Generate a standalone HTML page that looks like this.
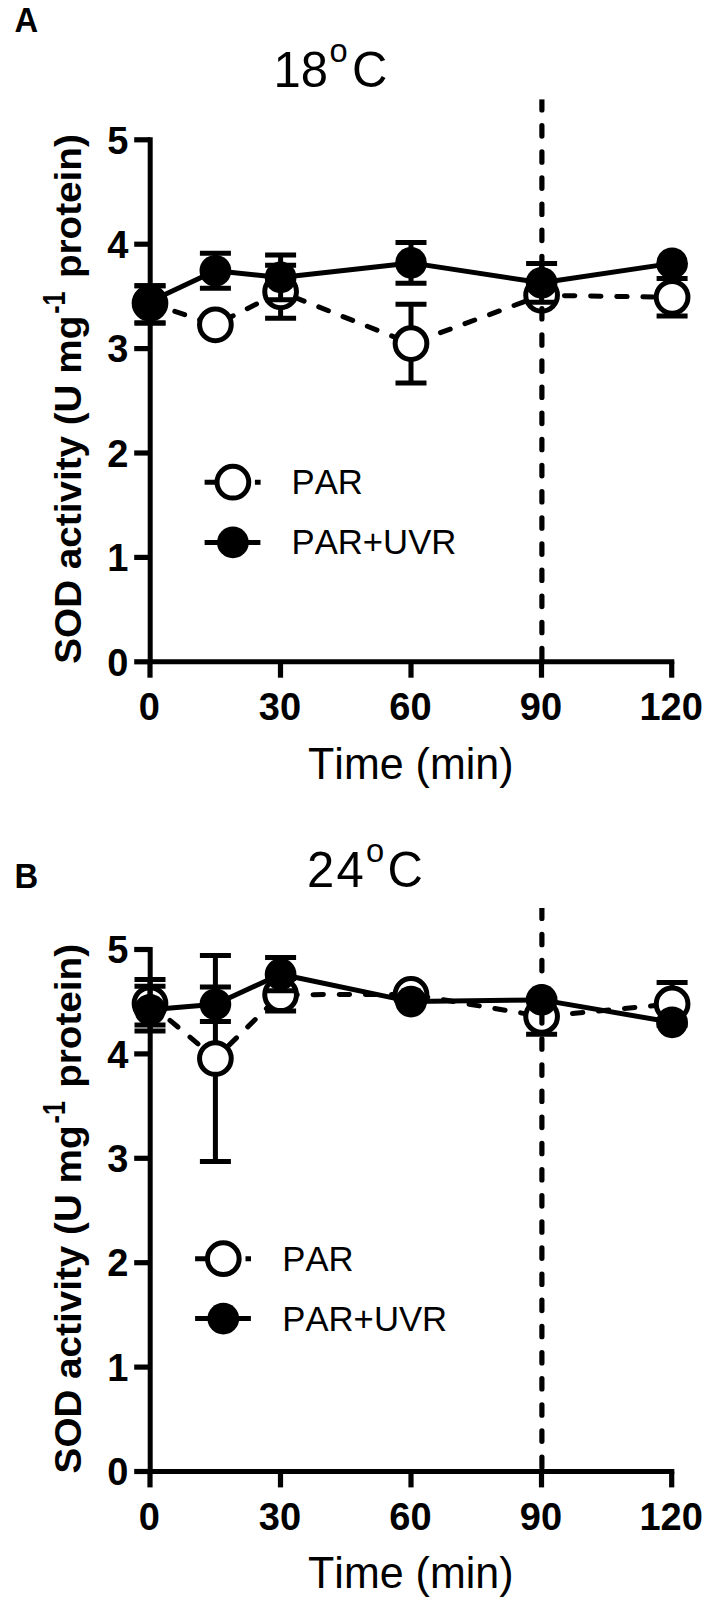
<!DOCTYPE html>
<html><head><meta charset="utf-8"><title>SOD activity</title>
<style>
html,body{margin:0;padding:0;background:#fff}
svg{display:block}
text{font-family:"Liberation Sans",Arial,Helvetica,sans-serif;fill:#000;font-kerning:none}
.tk{font-weight:bold;font-size:38px}
.tt{font-size:49px}
.sup{font-size:32.7px}
.pl{font-weight:bold;font-size:32.8px}
.xl{font-size:43px}
.yl{font-weight:bold;font-size:37px}
.lg{font-size:34.7px}
</style></head><body>
<svg width="709" height="1607" viewBox="0 0 709 1607">
<rect width="709" height="1607" fill="#fff"/>
<polyline points="150.0,303.2 215.4,324.8 280.6,291.8 411.0,343.6 541.6,295.3 672.1,297.3" fill="none" stroke="#000" stroke-width="5.0" stroke-dasharray="10.4 15.74" stroke-dashoffset="0" stroke-linecap="round" stroke-linejoin="round"/>
<path d="M150.0 285.7V323.1M134.5 285.7H165.5M134.5 323.1H165.5" fill="none" stroke="#000" stroke-width="5.0"/>
<path d="M280.6 265.3V318.3M265.1 265.3H296.1M265.1 318.3H296.1" fill="none" stroke="#000" stroke-width="5.0"/>
<path d="M411.0 304.3V382.9M395.5 304.3H426.5M395.5 382.9H426.5" fill="none" stroke="#000" stroke-width="5.0"/>
<path d="M672.1 278.6V316.0M656.6 278.6H687.6M656.6 316.0H687.6" fill="none" stroke="#000" stroke-width="5.0"/>
<circle cx="150.0" cy="303.2" r="15.85" fill="#fff" stroke="#000" stroke-width="5.0"/>
<circle cx="215.4" cy="324.8" r="15.85" fill="#fff" stroke="#000" stroke-width="5.0"/>
<circle cx="280.6" cy="291.8" r="15.85" fill="#fff" stroke="#000" stroke-width="5.0"/>
<circle cx="411.0" cy="343.6" r="15.85" fill="#fff" stroke="#000" stroke-width="5.0"/>
<circle cx="541.6" cy="295.3" r="15.85" fill="#fff" stroke="#000" stroke-width="5.0"/>
<circle cx="672.1" cy="297.3" r="15.85" fill="#fff" stroke="#000" stroke-width="5.0"/>
<polyline points="150.0,301.6 215.4,270.8 280.6,277.4 411.0,262.9 541.6,282.8 672.1,263.4" fill="none" stroke="#000" stroke-width="5.0" stroke-linejoin="round"/>
<path d="M150.0 285.7V323.1M134.5 285.7H165.5M134.5 323.1H165.5" fill="none" stroke="#000" stroke-width="5.0"/>
<path d="M215.4 253.3V288.3M199.9 253.3H230.9M199.9 288.3H230.9" fill="none" stroke="#000" stroke-width="5.0"/>
<path d="M280.6 255.1V299.7M265.1 255.1H296.1M265.1 299.7H296.1" fill="none" stroke="#000" stroke-width="5.0"/>
<path d="M411.0 242.6V283.2M395.5 242.6H426.5M395.5 283.2H426.5" fill="none" stroke="#000" stroke-width="5.0"/>
<path d="M541.6 263.6V302.2M526.1 263.6H557.1M526.1 302.2H557.1" fill="none" stroke="#000" stroke-width="5.0"/>
<circle cx="150.0" cy="301.6" r="15.85" fill="#000"/>
<circle cx="215.4" cy="270.8" r="15.85" fill="#000"/>
<circle cx="280.6" cy="277.4" r="15.85" fill="#000"/>
<circle cx="411.0" cy="262.9" r="15.85" fill="#000"/>
<circle cx="541.6" cy="282.8" r="15.85" fill="#000"/>
<circle cx="672.1" cy="263.4" r="15.85" fill="#000"/>
<path d="M150.2 137.2V661.8H674.3" fill="none" stroke="#000" stroke-width="5"/>
<line x1="134.2" x2="150.2" y1="661.8" y2="661.8" stroke="#000" stroke-width="5.2"/>
<text transform="translate(128.3 675.5) scale(1 1.04)" text-anchor="end" class="tk">0</text>
<line x1="134.2" x2="150.2" y1="557.4" y2="557.4" stroke="#000" stroke-width="5.2"/>
<text transform="translate(128.3 571.1) scale(1 1.04)" text-anchor="end" class="tk">1</text>
<line x1="134.2" x2="150.2" y1="453.0" y2="453.0" stroke="#000" stroke-width="5.2"/>
<text transform="translate(128.3 466.7) scale(1 1.04)" text-anchor="end" class="tk">2</text>
<line x1="134.2" x2="150.2" y1="348.6" y2="348.6" stroke="#000" stroke-width="5.2"/>
<text transform="translate(128.3 362.3) scale(1 1.04)" text-anchor="end" class="tk">3</text>
<line x1="134.2" x2="150.2" y1="244.2" y2="244.2" stroke="#000" stroke-width="5.2"/>
<text transform="translate(128.3 257.9) scale(1 1.04)" text-anchor="end" class="tk">4</text>
<line x1="134.2" x2="150.2" y1="139.8" y2="139.8" stroke="#000" stroke-width="5.2"/>
<text transform="translate(128.3 153.5) scale(1 1.04)" text-anchor="end" class="tk">5</text>
<line x1="150.0" x2="150.0" y1="661.8" y2="677.6999999999999" stroke="#000" stroke-width="5.2"/>
<text transform="translate(149.4 720.2) scale(1 1.02)" text-anchor="middle" class="tk">0</text>
<line x1="280.5" x2="280.5" y1="661.8" y2="677.6999999999999" stroke="#000" stroke-width="5.2"/>
<text transform="translate(279.9 720.2) scale(1 1.02)" text-anchor="middle" class="tk">30</text>
<line x1="411.0" x2="411.0" y1="661.8" y2="677.6999999999999" stroke="#000" stroke-width="5.2"/>
<text transform="translate(410.4 720.2) scale(1 1.02)" text-anchor="middle" class="tk">60</text>
<line x1="541.5" x2="541.5" y1="661.8" y2="677.6999999999999" stroke="#000" stroke-width="5.2"/>
<text transform="translate(540.9 720.2) scale(1 1.02)" text-anchor="middle" class="tk">90</text>
<line x1="671.7" x2="671.7" y1="661.8" y2="677.6999999999999" stroke="#000" stroke-width="5.2"/>
<text transform="translate(671.1 720.2) scale(1 1.02)" text-anchor="middle" class="tk">120</text>
<line x1="541.9" x2="541.9" y1="99.5" y2="661.8" stroke="#000" stroke-width="5.2" stroke-dasharray="10.4 15.74" stroke-linecap="round"/>
<rect x="537.9" y="96.2" width="8" height="3.2" fill="#fff"/>
<polyline points="150.0,1003.5 215.4,1058.5 280.6,994.7 411.0,994.4 541.6,1016.4 672.1,1003.9" fill="none" stroke="#000" stroke-width="5.0" stroke-dasharray="10.4 15.74" stroke-dashoffset="0" stroke-linecap="round" stroke-linejoin="round"/>
<path d="M150.0 979.4V1025.0M134.5 979.4H165.5M134.5 1025.0H165.5" fill="none" stroke="#000" stroke-width="5.0"/>
<path d="M215.4 955.5V1161.5M199.9 955.5H230.9M199.9 1161.5H230.9" fill="none" stroke="#000" stroke-width="5.0"/>
<path d="M280.6 978.4V1011.0M265.1 978.4H296.1M265.1 1011.0H296.1" fill="none" stroke="#000" stroke-width="5.0"/>
<path d="M541.6 998.5V1034.3M526.1 998.5H557.1M526.1 1034.3H557.1" fill="none" stroke="#000" stroke-width="5.0"/>
<path d="M672.1 982.5V1025.3M656.6 982.5H687.6M656.6 1025.3H687.6" fill="none" stroke="#000" stroke-width="5.0"/>
<circle cx="150.0" cy="1003.5" r="15.85" fill="#fff" stroke="#000" stroke-width="5.0"/>
<circle cx="215.4" cy="1058.5" r="15.85" fill="#fff" stroke="#000" stroke-width="5.0"/>
<circle cx="280.6" cy="994.7" r="15.85" fill="#fff" stroke="#000" stroke-width="5.0"/>
<circle cx="411.0" cy="994.4" r="15.85" fill="#fff" stroke="#000" stroke-width="5.0"/>
<circle cx="541.6" cy="1016.4" r="15.85" fill="#fff" stroke="#000" stroke-width="5.0"/>
<circle cx="672.1" cy="1003.9" r="15.85" fill="#fff" stroke="#000" stroke-width="5.0"/>
<polyline points="150.0,1009.8 215.4,1004.3 280.6,974.2 411.0,1001.6 541.6,999.9 672.1,1022.3" fill="none" stroke="#000" stroke-width="5.0" stroke-linejoin="round"/>
<path d="M150.0 986.2V1031.1M134.5 986.2H165.5M134.5 1031.1H165.5" fill="none" stroke="#000" stroke-width="5.0"/>
<path d="M215.4 987.1V1021.5M199.9 987.1H230.9M199.9 1021.5H230.9" fill="none" stroke="#000" stroke-width="5.0"/>
<path d="M280.6 957.6V990.8M265.1 957.6H296.1M265.1 990.8H296.1" fill="none" stroke="#000" stroke-width="5.0"/>
<circle cx="150.0" cy="1009.8" r="15.85" fill="#000"/>
<circle cx="215.4" cy="1004.3" r="15.85" fill="#000"/>
<circle cx="280.6" cy="974.2" r="15.85" fill="#000"/>
<circle cx="411.0" cy="1001.6" r="15.85" fill="#000"/>
<circle cx="541.6" cy="999.9" r="15.85" fill="#000"/>
<circle cx="672.1" cy="1022.3" r="15.85" fill="#000"/>
<path d="M150.2 946.9V1471.5H674.3" fill="none" stroke="#000" stroke-width="5"/>
<line x1="134.2" x2="150.2" y1="1471.5" y2="1471.5" stroke="#000" stroke-width="5.2"/>
<text transform="translate(128.3 1485.2) scale(1 1.04)" text-anchor="end" class="tk">0</text>
<line x1="134.2" x2="150.2" y1="1367.1" y2="1367.1" stroke="#000" stroke-width="5.2"/>
<text transform="translate(128.3 1380.8) scale(1 1.04)" text-anchor="end" class="tk">1</text>
<line x1="134.2" x2="150.2" y1="1262.7" y2="1262.7" stroke="#000" stroke-width="5.2"/>
<text transform="translate(128.3 1276.4) scale(1 1.04)" text-anchor="end" class="tk">2</text>
<line x1="134.2" x2="150.2" y1="1158.3" y2="1158.3" stroke="#000" stroke-width="5.2"/>
<text transform="translate(128.3 1172.0) scale(1 1.04)" text-anchor="end" class="tk">3</text>
<line x1="134.2" x2="150.2" y1="1053.9" y2="1053.9" stroke="#000" stroke-width="5.2"/>
<text transform="translate(128.3 1067.6) scale(1 1.04)" text-anchor="end" class="tk">4</text>
<line x1="134.2" x2="150.2" y1="949.5" y2="949.5" stroke="#000" stroke-width="5.2"/>
<text transform="translate(128.3 963.2) scale(1 1.04)" text-anchor="end" class="tk">5</text>
<line x1="150.0" x2="150.0" y1="1471.5" y2="1487.4" stroke="#000" stroke-width="5.2"/>
<text transform="translate(149.4 1529.9) scale(1 1.02)" text-anchor="middle" class="tk">0</text>
<line x1="280.5" x2="280.5" y1="1471.5" y2="1487.4" stroke="#000" stroke-width="5.2"/>
<text transform="translate(279.9 1529.9) scale(1 1.02)" text-anchor="middle" class="tk">30</text>
<line x1="411.0" x2="411.0" y1="1471.5" y2="1487.4" stroke="#000" stroke-width="5.2"/>
<text transform="translate(410.4 1529.9) scale(1 1.02)" text-anchor="middle" class="tk">60</text>
<line x1="541.5" x2="541.5" y1="1471.5" y2="1487.4" stroke="#000" stroke-width="5.2"/>
<text transform="translate(540.9 1529.9) scale(1 1.02)" text-anchor="middle" class="tk">90</text>
<line x1="671.7" x2="671.7" y1="1471.5" y2="1487.4" stroke="#000" stroke-width="5.2"/>
<text transform="translate(671.1 1529.9) scale(1 1.02)" text-anchor="middle" class="tk">120</text>
<line x1="541.9" x2="541.9" y1="908.1" y2="1471.5" stroke="#000" stroke-width="5.2" stroke-dasharray="10.4 15.74" stroke-linecap="round"/>
<rect x="537.9" y="904.8" width="8" height="3.2" fill="#fff"/>
<text transform="translate(273.6 86.6) scale(1 1.025)" text-anchor="start" class="tt" letter-spacing="0">18</text><text transform="translate(329.6 61.7) scale(1 1.025)" text-anchor="start" class="sup">o</text><text transform="translate(352.0 86.6) scale(1 1.025)" text-anchor="start" class="tt">C</text>
<text transform="translate(306.9 886.6) scale(1 1.025)" text-anchor="start" class="tt" letter-spacing="2.3">24</text><text transform="translate(366.0 861.7) scale(1 1.025)" text-anchor="start" class="sup">o</text><text transform="translate(387.6 886.6) scale(1 1.025)" text-anchor="start" class="tt">C</text>
<text transform="translate(14.4 32.1) scale(1 1.085)" text-anchor="start" class="pl">A</text>
<text transform="translate(14.6 887.6) scale(1 1.095)" text-anchor="start" class="pl">B</text>
<text transform="translate(410.8 778.6) scale(1 1.045)" text-anchor="middle" class="xl">Time (min)</text>
<g transform="translate(81.3 401.3) scale(1 1.045) rotate(-90)" class="yl"><text x="-251.1">SOD activity (U mg</text><text transform="translate(83.8 -16.3) scale(0.75 1)" font-size="32">-1</text><text x="117.9">protein)</text></g>
<text transform="translate(410.8 1588.3) scale(1 1.045)" text-anchor="middle" class="xl">Time (min)</text>
<g transform="translate(81.3 1211.0) scale(1 1.045) rotate(-90)" class="yl"><text x="-251.1">SOD activity (U mg</text><text transform="translate(83.8 -16.3) scale(0.75 1)" font-size="32">-1</text><text x="117.9">protein)</text></g>
<path d="M204.6 482.2H232.9M254.9 482.2H260.6" stroke="#000" stroke-width="5.0" fill="none"/>
<circle cx="232.9" cy="482.2" r="15.85" fill="#fff" stroke="#000" stroke-width="5.0"/>
<line x1="204.6" x2="260.4" y1="542.4" y2="542.4" stroke="#000" stroke-width="5.0"/>
<circle cx="232.9" cy="542.4" r="15.85" fill="#000"/>
<text transform="translate(291.5 494.2) scale(1 1.0)" text-anchor="start" class="lg">PAR</text>
<text transform="translate(291.5 554.4) scale(1 1.0)" text-anchor="start" class="lg">PAR+UVR</text>
<path d="M195.1 1258.7H223.3M245.5 1258.7H251.0" stroke="#000" stroke-width="5.0" fill="none"/>
<circle cx="223.3" cy="1258.7" r="15.85" fill="#fff" stroke="#000" stroke-width="5.0"/>
<line x1="195.1" x2="250.9" y1="1318.6" y2="1318.6" stroke="#000" stroke-width="5.0"/>
<circle cx="223.3" cy="1318.6" r="15.85" fill="#000"/>
<text transform="translate(282.3 1270.8) scale(1 1.0)" text-anchor="start" class="lg">PAR</text>
<text transform="translate(282.3 1331.2) scale(1 1.0)" text-anchor="start" class="lg">PAR+UVR</text>
</svg>
</body></html>
